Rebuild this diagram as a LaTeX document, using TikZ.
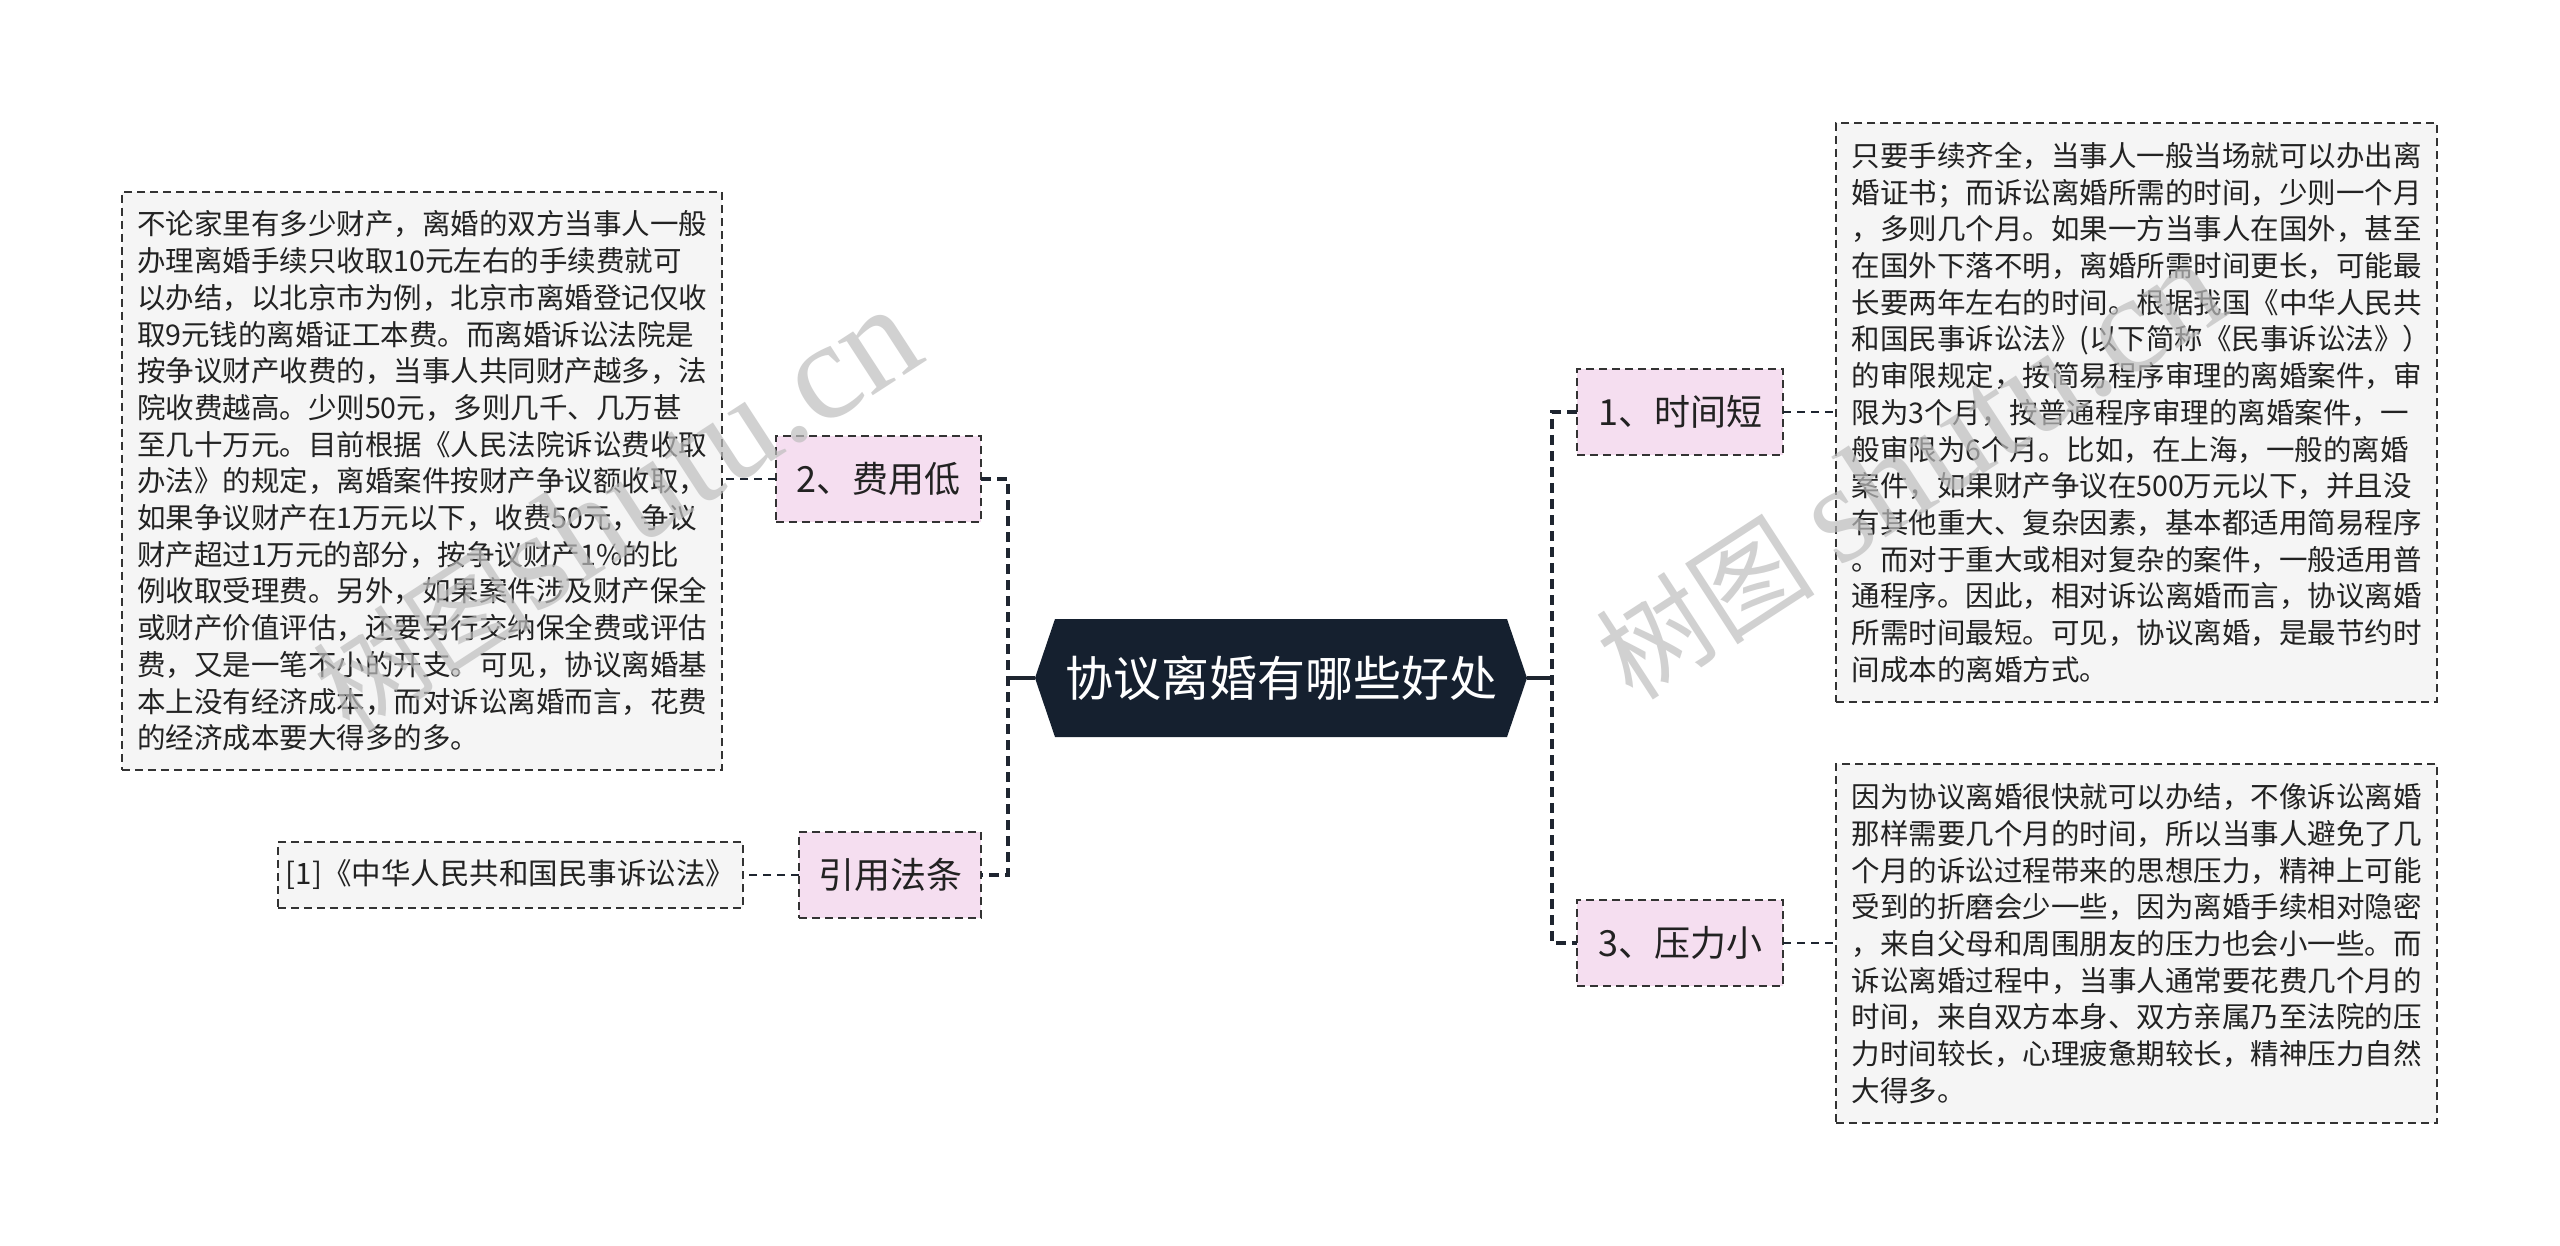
\documentclass[tikz,border=0pt]{standalone}
\usepackage{fontspec}
\setmainfont{Noto Sans CJK SC}
\newfontfamily\wmlatin{Liberation Serif}
\usetikzlibrary{calc}
\definecolor{rootfill}{HTML}{15202F}
\definecolor{pinkfill}{HTML}{F5DEF0}
\definecolor{grayfill}{HTML}{F5F5F5}
\definecolor{bordercol}{HTML}{333333}
\definecolor{linecol}{HTML}{1E2530}
\definecolor{textcol}{HTML}{222222}
\definecolor{wmcol}{RGB}{190,190,190}
\begin{document}
\begin{tikzpicture}[x=1pt,y=-1pt,
 every node/.style={inner sep=0pt, outer sep=0pt},
 branchbox/.style={draw=bordercol, line width=2pt, dash pattern=on 8pt off 5pt, fill=pinkfill, text=textcol, font=\fontsize{36}{40}\selectfont, minimum height=86pt},
 leafbox/.style={draw=bordercol, line width=2pt, dash pattern=on 8pt off 5pt, fill=grayfill, text=textcol, align=left, font=\fontsize{28.5}{36.7}\selectfont},
 trunk/.style={draw=linecol, line width=4pt, dash pattern=on 10pt off 6pt},
 twig/.style={draw=linecol, line width=2.5pt, dash pattern=on 8pt off 6pt},
 rootline/.style={draw=linecol, line width=4pt},
 wm/.style={text=wmcol, opacity=0.7, rotate=33, anchor=base west, font=\fontsize{110}{110}\selectfont}
]
\useasboundingbox (0,0) rectangle (2560,1246);
\fill[white] (0,0) rectangle (2560,1246);

% root hexagon
\coordinate (rootL) at (1035,678);
\coordinate (rootR) at (1527,678);
\fill[rootfill] (1055,619) -- (1507,619) -- (rootR) -- (1507,737) -- (1055,737) -- (rootL) -- cycle;
\node[minimum width=452pt, minimum height=118pt, text=white, font=\fontsize{48}{52}\selectfont] (root) at (1281,678) {协议离婚有哪些好处};

% branch nodes
\node[branchbox, minimum width=205pt] (n2) at (878.5,479) {2、费用低};
\node[branchbox, minimum width=182pt] (nref) at (890,875) {引用法条};
\node[branchbox, minimum width=206pt] (n1) at (1680,412) {1、时间短};
\node[branchbox, minimum width=206pt] (n3) at (1680,943) {3、压力小};

% leaf boxes
\node[leafbox, minimum width=600pt, minimum height=578pt, text width=570pt] (t2) at (422,481) {%
不论家里有多少财产，离婚的双方当事人一般\\%
办理离婚手续只收取10元左右的手续费就可\\%
以办结，以北京市为例，北京市离婚登记仅收\\%
取9元钱的离婚证工本费。而离婚诉讼法院是\\%
按争议财产收费的，当事人共同财产越多，法\\%
院收费越高。少则50元，多则几千、几万甚\\%
至几十万元。目前根据《人民法院诉讼费收取\\%
办法》的规定，离婚案件按财产争议额收取，\\%
如果争议财产在1万元以下，收费50元，争议\\%
财产超过1万元的部分，按争议财产1\%的比\\%
例收取受理费。另外，如果案件涉及财产保全\\%
或财产价值评估，还要另行交纳保全费或评估\\%
费，又是一笔不小的开支。可见，协议离婚基\\%
本上没有经济成本，而对诉讼离婚而言，花费\\%
的经济成本要大得多的多。};

\node[leafbox, font=\fontsize{29.5}{32}\selectfont, minimum width=465pt, minimum height=66pt] (tref) at (510.5,875) {[1]《中华人民共和国民事诉讼法》};

\node[leafbox, minimum width=601pt, minimum height=579pt, text width=570pt] (t1) at (2136.5,412.5) {%
只要手续齐全，当事人一般当场就可以办出离\\%
婚证书；而诉讼离婚所需的时间，少则一个月\\%
，多则几个月。如果一方当事人在国外，甚至\\%
在国外下落不明，离婚所需时间更长，可能最\\%
长要两年左右的时间。根据我国《中华人民共\\%
和国民事诉讼法》(以下简称《民事诉讼法》）\\%
的审限规定，按简易程序审理的离婚案件，审\\%
限为3个月，按普通程序审理的离婚案件，一\\%
般审限为6个月。比如，在上海，一般的离婚\\%
案件，如果财产争议在500万元以下，并且没\\%
有其他重大、复杂因素，基本都适用简易程序\\%
。而对于重大或相对复杂的案件，一般适用普\\%
通程序。因此，相对诉讼离婚而言，协议离婚\\%
所需时间最短。可见，协议离婚，是最节约时\\%
间成本的离婚方式。};

\node[leafbox, minimum width=601pt, minimum height=359pt, text width=570pt] (t3) at (2136.5,943.5) {%
因为协议离婚很快就可以办结，不像诉讼离婚\\%
那样需要几个月的时间，所以当事人避免了几\\%
个月的诉讼过程带来的思想压力，精神上可能\\%
受到的折磨会少一些，因为离婚手续相对隐密\\%
，来自父母和周围朋友的压力也会小一些。而\\%
诉讼离婚过程中，当事人通常要花费几个月的\\%
时间，来自双方本身、双方亲属乃至法院的压\\%
力时间较长，心理疲惫期较长，精神压力自然\\%
大得多。};

% connectors
\coordinate (lj) at (1008,678);
\coordinate (rj) at (1552,678);
\draw[trunk] (n2.east) -| (lj) |- (nref.east);
\draw[rootline] (rootL) -- (lj);
\draw[trunk] (n1.west) -| (rj) |- (n3.west);
\draw[rootline] (rootR) -- (rj);
\draw[twig] (n2.west) -- (n2.west -| t2.east);
\draw[twig] (nref.west) -- (nref.west -| tref.east);
\draw[twig] (n1.east) -- (n1.east -| t1.west);
\draw[twig] (n3.east) -- (n3.east -| t3.west);

% watermarks
\node[wm] (wm1) at (350,735) {树图{\wmlatin\fontsize{140}{140}\selectfont shutu.cn}};
\node[wm] (wm2) at (1633,702) {树图 {\wmlatin\fontsize{140}{140}\selectfont shutu.cn}};
\end{tikzpicture}
\end{document}
